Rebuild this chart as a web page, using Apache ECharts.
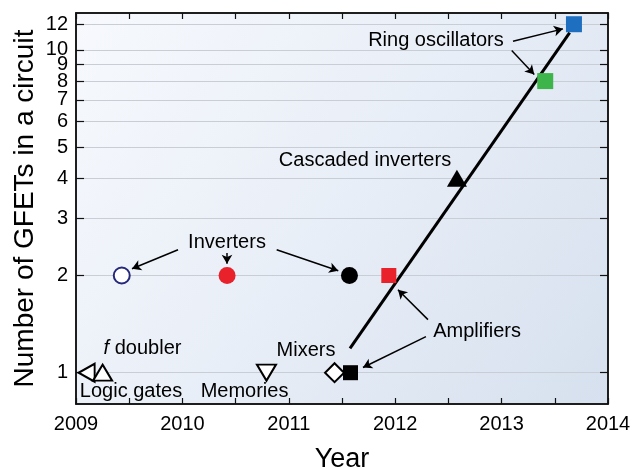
<!DOCTYPE html>
<html>
<head>
<meta charset="utf-8">
<script src="https://cdn.jsdelivr.net/npm/echarts@6/dist/echarts.min.js"></script>
<style>html,body{margin:0;padding:0;background:#fff;}#c{width:633px;height:469px;}</style>
</head>
<body>
<div id="c"></div>
<script>
// ---- data ----
const pointNames  = ['Logic gates', 'f doubler', 'Inverters (1)', 'Inverters (2)', 'Memories', 'Inverters (3)', 'Mixers', 'Amplifiers (1)', 'Amplifiers (2)', 'Cascaded inverters', 'Ring oscillators (1)', 'Ring oscillators (2)'];
const pointYears  = [2009.10, 2009.25, 2009.43, 2010.42, 2010.79, 2011.57, 2011.43, 2011.58, 2011.94, 2012.58, 2013.41, 2013.68];
const pointCounts = [1, 1, 2, 2, 1, 2, 1, 1, 2, 4, 8, 12];

const trendYears  = [2011.575, 2013.64];
const trendCounts = [1.19, 11.3];

const xTickLabels = [2009, 2010, 2011, 2012, 2013, 2014];
const yTickValues = [1, 2, 3, 4, 5, 6, 7, 8, 9, 10, 12];

const noteTexts  = ['Ring oscillators', 'Cascaded inverters', 'Inverters', 'Mixers', 'Amplifiers', '{i|f} doubler', 'Logic gates', 'Memories'];
const noteYears  = [2012.383, 2011.716, 2010.419, 2011.162, 2012.769, 2009.625, 2009.517, 2010.584];
const noteCounts = [10.69, 4.55, 2.525, 1.174, 1.344, 1.189, 0.877, 0.877];

const arrowFromYears  = [2013.107, 2013.095, 2009.959, 2010.419, 2010.886, 2012.308, 2012.289];
const arrowFromCounts = [10.63, 9.95, 2.403, 2.35, 2.403, 1.46, 1.294];
const arrowToYears    = [2013.577, 2013.307, 2009.526, 2010.419, 2011.465, 2012.026, 2011.697];
const arrowToCounts   = [11.61, 8.39, 2.099, 2.175, 2.07, 1.807, 1.038];

// ---- styles (by point index) ----
const pointSymbols = ['triangle', 'triangle', 'circle', 'circle', 'triangle', 'circle', 'diamond', 'rect', 'rect', 'triangle', 'rect', 'rect'];
const pointRotate  = [90, 0, 0, 0, 180, 0, 0, 0, 0, 0, 0, 0];
const pointSizes   = [[18, 16], [19, 16], 16, 17, [19, 16], 17, [19, 19], 15, 15, [20, 17], 16, 16];
const pointFill    = ['#ffffff', '#ffffff', '#ffffff', '#e8212b', '#ffffff', '#000000', '#ffffff', '#000000', '#e8212b', '#000000', '#3db54a', '#1f6fc1'];
const pointStroke  = ['#000000', '#000000', '#26287a', '#e8212b', '#000000', '#000000', '#000000', '#000000', '#e8212b', '#000000', '#3db54a', '#1f6fc1'];
const pointStrokeW = [2, 2, 2, 0, 2, 0, 2, 0, 0, 0, 0, 0];

const FONT = '"Liberation Sans", Arial, sans-serif';

const chart = echarts.init(document.getElementById('c'), null, {renderer: 'canvas'});

const pointSeries = pointNames.map((n, i) => ({
  type: 'scatter',
  name: n,
  xAxisIndex: 0, yAxisIndex: 0,
  symbol: pointSymbols[i],
  symbolRotate: pointRotate[i],
  symbolSize: pointSizes[i],
  z: 5,
  itemStyle: {color: pointFill[i], borderColor: pointStroke[i], borderWidth: pointStrokeW[i], opacity: 1},
  data: [[pointYears[i], pointCounts[i]]],
  silent: true
}));

const trendSeries = {
  type: 'line',
  xAxisIndex: 0, yAxisIndex: 0,
  data: trendYears.map((y, i) => [y, trendCounts[i]]),
  symbol: 'none',
  lineStyle: {color: '#000', width: 3},
  z: 4,
  silent: true
};

const noteSeries = {
  type: 'scatter',
  xAxisIndex: 0, yAxisIndex: 0,
  symbolSize: 0,
  itemStyle: {opacity: 1, color: 'transparent'},
  data: noteTexts.map((t, i) => ({value: [noteYears[i], noteCounts[i]], label: {formatter: t}})),
  label: {
    show: true, position: 'inside', opacity: 1,
    color: '#000', fontSize: 20, fontFamily: FONT,
    rich: {i: {fontStyle: 'italic', fontSize: 20, fontFamily: FONT, color: '#000'}}
  },
  z: 6,
  silent: true,
  markLine: {
    silent: true,
    symbol: ['none', 'arrow'],
    symbolSize: [8, 9],
    lineStyle: {color: '#000', width: 1.5, type: 'solid', opacity: 1},
    label: {show: false},
    animation: false,
    data: arrowFromYears.map((y, i) => [
      {coord: [y, arrowFromCounts[i]]},
      {coord: [arrowToYears[i], arrowToCounts[i]]}
    ])
  }
};

const axisText = {color: '#000', fontSize: 20, fontFamily: FONT};

const option = {
  animation: false,
  backgroundColor: '#ffffff',
  grid: {
    left: 76, right: 25, top: 13, bottom: 65,
    containLabel: false,
    outerBoundsMode: 'none',
    show: true,
    borderColor: '#111', borderWidth: 1.5,
    backgroundColor: {type: 'linear', x: 0, y: 0, x2: 1, y2: 1,
      colorStops: [{offset: 0, color: '#f7f9fd'}, {offset: 0.5, color: '#e8eef7'}, {offset: 1, color: '#d6e0ee'}]}
  },
  xAxis: [{
    type: 'value', min: 2009, max: 2014, interval: 0.5,
    position: 'bottom',
    name: 'Year', nameLocation: 'middle', nameGap: 42, nameMoveOverlap: false,
    nameTextStyle: {color: '#000', fontSize: 27, fontFamily: FONT},
    axisLine: {show: true, lineStyle: {color: '#111', width: 1.5}},
    axisTick: {show: true, inside: true, length: 6, lineStyle: {color: '#111', width: 1.2}},
    axisLabel: Object.assign({margin: 10, formatter: v => xTickLabels.includes(v) ? String(v) : ''}, axisText),
    splitLine: {show: false}
  }, {
    type: 'value', min: 2009, max: 2014, interval: 0.5,
    position: 'top',
    axisLine: {show: true, lineStyle: {color: '#111', width: 1.5}},
    axisTick: {show: true, inside: true, length: 6, lineStyle: {color: '#111', width: 1.2}},
    axisLabel: {show: false},
    splitLine: {show: false}
  }],
  yAxis: [{
    type: 'log', logBase: 10, min: 0.8, max: 13,
    position: 'left',
    name: 'Number of GFETs in a circuit', nameLocation: 'middle', nameGap: 37, nameMoveOverlap: false,
    nameTextStyle: {color: '#000', fontSize: 28, fontFamily: FONT},
    axisLine: {show: true, lineStyle: {color: '#111', width: 1.5}},
    axisTick: {show: true, inside: true, length: 8, customValues: yTickValues, lineStyle: {color: '#111', width: 1.2}},
    axisLabel: Object.assign({margin: 8, customValues: yTickValues, formatter: v => String(Math.round(v))}, axisText),
    splitLine: {show: true, lineStyle: {color: '#c9ced6', width: 1}}
  }, {
    type: 'log', logBase: 10, min: 0.8, max: 13,
    position: 'right',
    axisLine: {show: true, lineStyle: {color: '#111', width: 1.5}},
    axisTick: {show: true, inside: true, length: 8, customValues: yTickValues, lineStyle: {color: '#111', width: 1.2}},
    axisLabel: {show: false, customValues: yTickValues},
    splitLine: {show: false}
  }],
  series: [trendSeries, noteSeries].concat(pointSeries)
};

chart.setOption(option);
</script>
</body>
</html>
